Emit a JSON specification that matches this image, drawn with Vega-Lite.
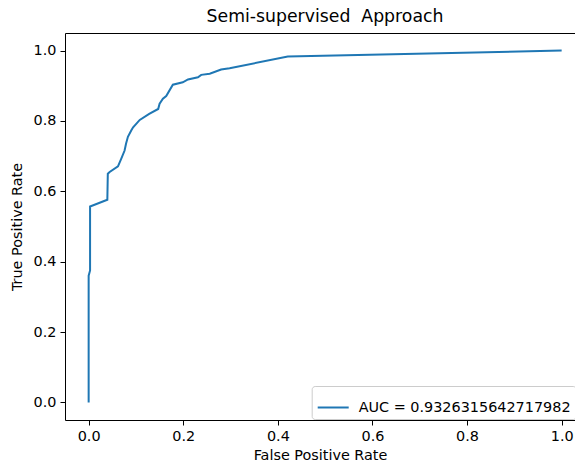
{
  "$schema": "https://vega.github.io/schema/vega-lite/v6.json",
  "width": 510,
  "height": 387,
  "autosize": {"type": "none"},
  "padding": {"left": 65, "top": 33, "right": 0, "bottom": 43},
  "background": "white",
  "title": {"text": "Semi-supervised\u00a0 Approach", "font": "DejaVu Sans", "fontSize": 17.3, "fontWeight": "normal", "color": "#000000", "anchor": "middle", "dx": 5, "offset": 8},
  "data": {
    "values": [
      {"i": 0, "fpr": 0, "tpr": 0, "label": "AUC = 0.9326315642717982"},
      {"i": 1, "fpr": 0, "tpr": 0.36, "label": "AUC = 0.9326315642717982"},
      {"i": 2, "fpr": 0.003, "tpr": 0.375, "label": "AUC = 0.9326315642717982"},
      {"i": 3, "fpr": 0.003, "tpr": 0.557, "label": "AUC = 0.9326315642717982"},
      {"i": 4, "fpr": 0.0395, "tpr": 0.576, "label": "AUC = 0.9326315642717982"},
      {"i": 5, "fpr": 0.0405, "tpr": 0.65, "label": "AUC = 0.9326315642717982"},
      {"i": 6, "fpr": 0.0444, "tpr": 0.655, "label": "AUC = 0.9326315642717982"},
      {"i": 7, "fpr": 0.062, "tpr": 0.671, "label": "AUC = 0.9326315642717982"},
      {"i": 8, "fpr": 0.069, "tpr": 0.693, "label": "AUC = 0.9326315642717982"},
      {"i": 9, "fpr": 0.076, "tpr": 0.716, "label": "AUC = 0.9326315642717982"},
      {"i": 10, "fpr": 0.079, "tpr": 0.735, "label": "AUC = 0.9326315642717982"},
      {"i": 11, "fpr": 0.083, "tpr": 0.755, "label": "AUC = 0.9326315642717982"},
      {"i": 12, "fpr": 0.09, "tpr": 0.773, "label": "AUC = 0.9326315642717982"},
      {"i": 13, "fpr": 0.094, "tpr": 0.782, "label": "AUC = 0.9326315642717982"},
      {"i": 14, "fpr": 0.108, "tpr": 0.803, "label": "AUC = 0.9326315642717982"},
      {"i": 15, "fpr": 0.128, "tpr": 0.82, "label": "AUC = 0.9326315642717982"},
      {"i": 16, "fpr": 0.147, "tpr": 0.834, "label": "AUC = 0.9326315642717982"},
      {"i": 17, "fpr": 0.15, "tpr": 0.849, "label": "AUC = 0.9326315642717982"},
      {"i": 18, "fpr": 0.157, "tpr": 0.863, "label": "AUC = 0.9326315642717982"},
      {"i": 19, "fpr": 0.164, "tpr": 0.871, "label": "AUC = 0.9326315642717982"},
      {"i": 20, "fpr": 0.178, "tpr": 0.903, "label": "AUC = 0.9326315642717982"},
      {"i": 21, "fpr": 0.199, "tpr": 0.91, "label": "AUC = 0.9326315642717982"},
      {"i": 22, "fpr": 0.21, "tpr": 0.918, "label": "AUC = 0.9326315642717982"},
      {"i": 23, "fpr": 0.231, "tpr": 0.924, "label": "AUC = 0.9326315642717982"},
      {"i": 24, "fpr": 0.238, "tpr": 0.931, "label": "AUC = 0.9326315642717982"},
      {"i": 25, "fpr": 0.256, "tpr": 0.934, "label": "AUC = 0.9326315642717982"},
      {"i": 26, "fpr": 0.28, "tpr": 0.946, "label": "AUC = 0.9326315642717982"},
      {"i": 27, "fpr": 0.298, "tpr": 0.95, "label": "AUC = 0.9326315642717982"},
      {"i": 28, "fpr": 0.421, "tpr": 0.983, "label": "AUC = 0.9326315642717982"},
      {"i": 29, "fpr": 1.0, "tpr": 1.0, "label": "AUC = 0.9326315642717982"}
    ]
  },
  "layer": [
    {
      "mark": {"type": "line", "strokeWidth": 2, "clip": true},
      "encoding": {
        "x": {
          "field": "fpr", "type": "quantitative",
          "scale": {"domain": [-0.05, 1.0282], "nice": false, "zero": false},
          "axis": {"values": [0, 0.2, 0.4, 0.6, 0.8, 1.0], "format": ".1f", "title": "False Positive Rate", "titlePadding": 6}
        },
        "y": {
          "field": "tpr", "type": "quantitative",
          "scale": {"domain": [-0.05, 1.05], "nice": false, "zero": false},
          "axis": {"values": [0, 0.2, 0.4, 0.6, 0.8, 1.0], "format": ".1f", "title": "True Positive Rate", "titlePadding": 9}
        },
        "order": {"field": "i", "type": "quantitative"},
        "color": {
          "field": "label", "type": "nominal",
          "scale": {"range": ["#1f77b4"]},
          "legend": {
            "title": null, "orient": "none", "legendX": 246.7, "legendY": 353,
            "strokeColor": "#cccccc", "fillColor": "#ffffff", "cornerRadius": 3, "padding": 5,
            "symbolType": "stroke", "symbolSize": 961, "symbolStrokeWidth": 2,
            "labelFont": "DejaVu Sans", "labelFontSize": 14.4, "labelColor": "#000000", "labelOffset": 9, "labelLimit": 0
          }
        }
      }
    },
    {
      "mark": {"type": "rule", "opacity": 0},
      "encoding": {
        "x": {
          "field": "fpr", "type": "quantitative",
          "axis": {"orient": "top", "labels": false, "ticks": false, "title": null}
        }
      }
    }
  ],
  "resolve": {"axis": {"x": "independent"}},
  "config": {
    "view": {"stroke": null},
    "axis": {
      "grid": false, "domainColor": "#000000", "domainWidth": 1, "tickColor": "#000000", "tickSize": 5, "tickWidth": 1,
      "labelColor": "#000000", "labelFont": "DejaVu Sans", "labelFontSize": 14.4, "labelPadding": 4,
      "titleColor": "#000000", "titleFont": "DejaVu Sans", "titleFontSize": 14.4, "titleFontWeight": "normal"
    }
  }
}
